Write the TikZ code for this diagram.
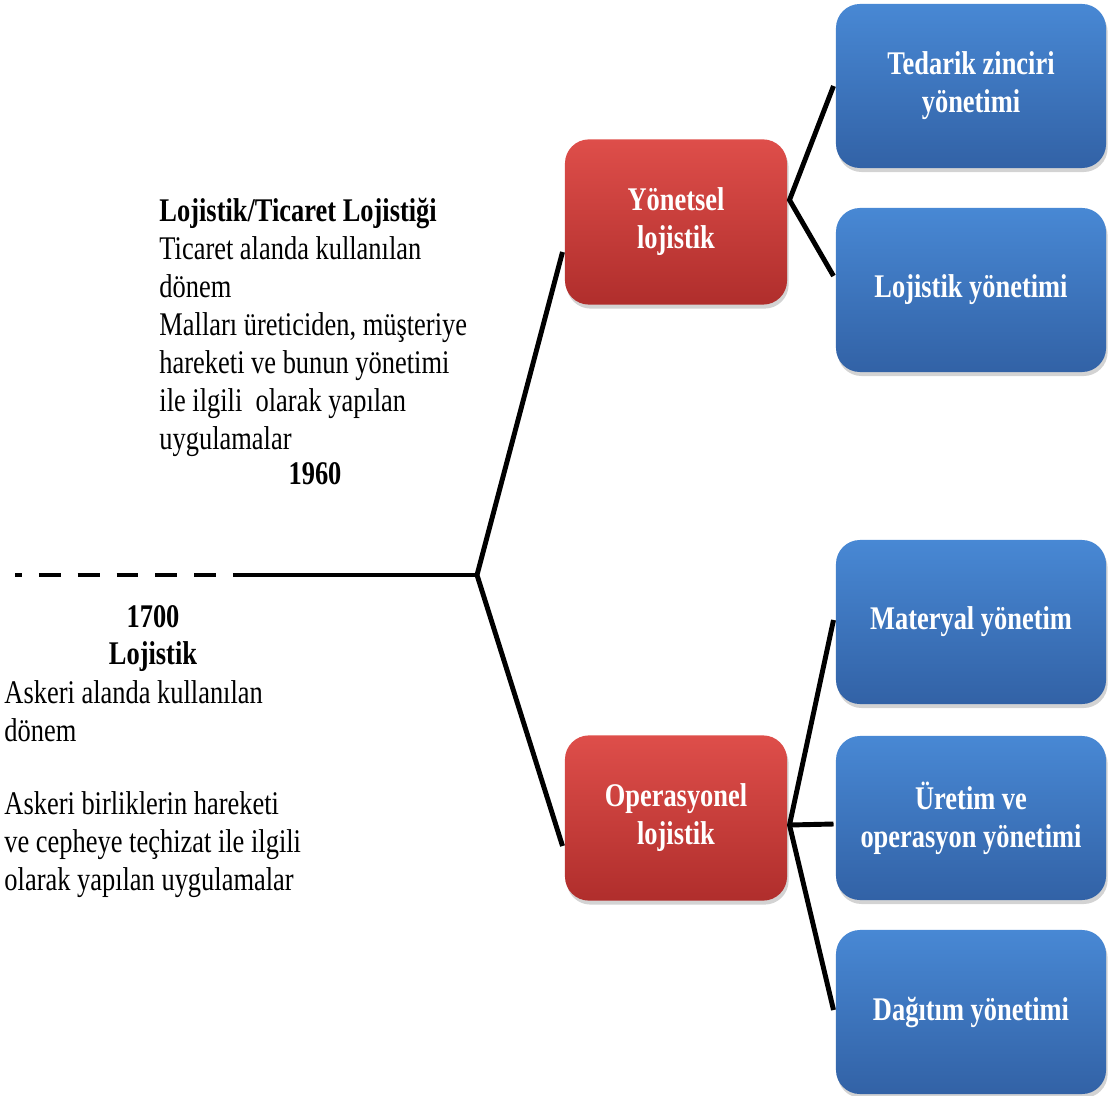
\documentclass[tikz,border=0pt]{standalone}
\usepackage{fontspec}
\setmainfont{Liberation Serif}[FakeStretch=0.8]
\usetikzlibrary{shadows,positioning}
\definecolor{redtop}{RGB}{222,78,74}
\definecolor{redmid}{RGB}{208,64,60}
\definecolor{redbot}{RGB}{176,46,44}
\definecolor{bluetop}{RGB}{72,136,212}
\definecolor{bluemid}{RGB}{62,126,202}
\definecolor{bluebot}{RGB}{50,98,166}

\begin{document}
\begin{tikzpicture}
[x=0.025cm, y=-0.025cm, line width=3.5pt,
font=\fontsize{23.5}{27}\selectfont,
redbox/.style={rectangle, rounded corners=0.6cm, top color=redtop, middle color=redmid, bottom color=redbot, draw=none, minimum width=5.55cm, minimum height=4.13cm, text=white, font=\fontsize{23.5}{27}\selectfont\bfseries, align=center, drop shadow={opacity=0.35, shadow xshift=0.04cm, shadow yshift=-0.1cm}},
bluebox/.style={rectangle, rounded corners=0.6cm, top color=bluetop, middle color=bluemid, bottom color=bluebot, draw=none, minimum width=6.75cm, minimum height=4.1cm, text=white, font=\fontsize{23.5}{27}\selectfont\bfseries, align=center, drop shadow={opacity=0.35, shadow xshift=0.04cm, shadow yshift=-0.1cm}},
note/.style={align=left, inner sep=0pt, anchor=north west},
yearlabel/.style={inner sep=0pt, font=\fontsize{23.5}{27}\selectfont\bfseries}]

\useasboundingbox (0,0) rectangle (1108,1095);

\node[redbox] (yon) at (676,222) {Yönetsel\\lojistik};
\node[redbox] (ope) at (676,818) {Operasyonel\\lojistik};

\foreach \n/\y/\t in {ted/86/{Tedarik zinciri\\yönetimi}, lojy/290/{Lojistik yönetimi}, mat/622/{Materyal yönetim}, ure/818/{Üretim ve\\operasyon yönetimi}, dag/1012/{Dağıtım yönetimi}} {
  \node[bluebox] (\n) at (971,\y) {\t};
}

\coordinate (start) at (15,575);
\coordinate (dashend) at (234,575);
\coordinate (root) at (477,575);

\draw[dash pattern=on 15.6pt off 12pt, dash phase=10.6pt] (start) -- (dashend);
\draw (dashend) -- (root);
\draw ([yshift=-0.75cm]yon.west) -- (root) -- ([yshift=-0.7cm]ope.west);
\draw (ted.west) -- ([yshift=0.55cm]yon.east) -- ([yshift=0.35cm]lojy.west);
\draw ([yshift=0.05cm]mat.west) -- ([yshift=-0.175cm]ope.east) -- ([yshift=0.05cm]dag.west);
\draw ([yshift=-0.175cm]ope.east) -- ([yshift=-0.15cm]ure.west);

\node[note] (ticaret) at (157,196) {{\bfseries Lojistik/Ticaret Lojistiği}\\Ticaret alanda kullanılan\\dönem\\Malları üreticiden, müşteriye\\hareketi ve bunun yönetimi\\ile ilgili\ \ olarak yapılan\\uygulamalar};
\node[yearlabel] (y1960) at (315,474) {1960};

\node[yearlabel] (y1700) at (153,617) {1700};
\node[yearlabel] (lojistik) at (153,657) {Lojistik};
\node[note] (askeri) at (2,678) {Askeri alanda kullanılan\\dönem\\[25pt]Askeri birliklerin hareketi\\ve cepheye teçhizat ile ilgili\\olarak yapılan uygulamalar};

\end{tikzpicture}
\end{document}
